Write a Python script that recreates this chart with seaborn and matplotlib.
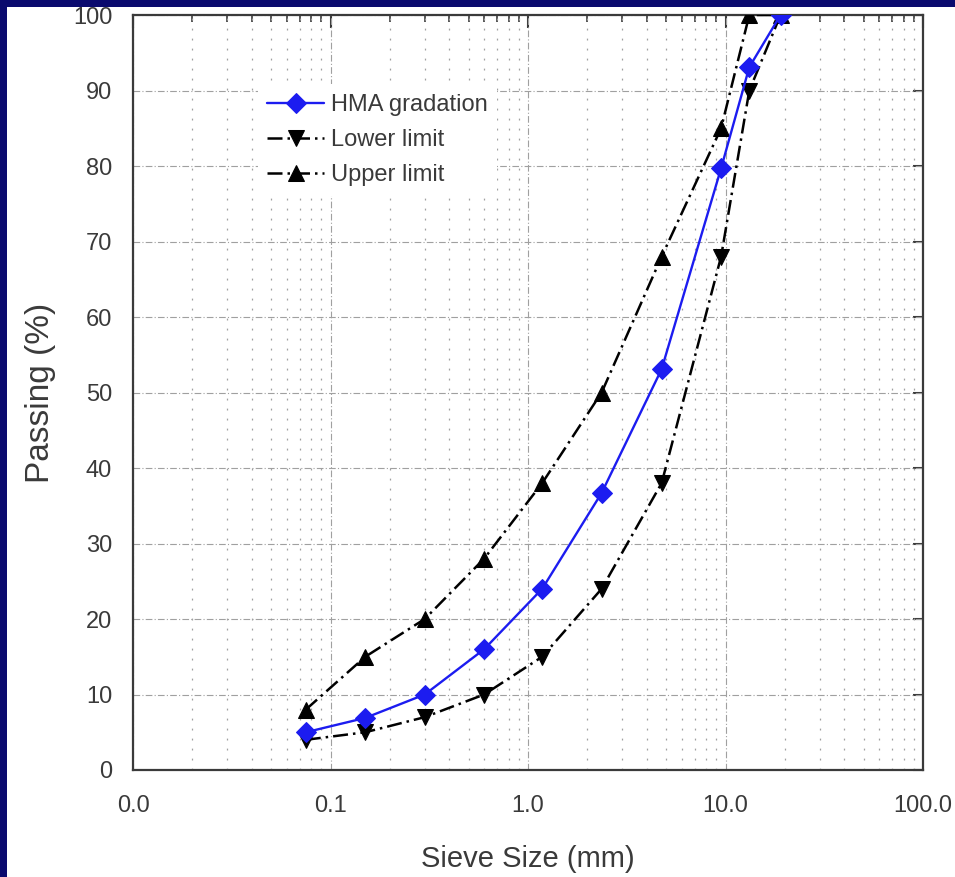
import matplotlib
matplotlib.use("Agg")

import matplotlib.pyplot as plt
import seaborn as sns
from matplotlib.patches import Rectangle
from matplotlib.ticker import FixedLocator, FixedFormatter, LogLocator, NullFormatter

# sieve sizes (mm) and percent passing
sieve_mm = [0.075, 0.15, 0.3, 0.6, 1.18, 2.36, 4.75, 9.5, 13.2, 19.0]
hma_gradation = [5.0, 6.9, 10.0, 16.0, 24.0, 36.7, 53.1, 79.7, 93.1, 100.0]
lower_limit = [4, 5, 7, 10, 15, 24, 38, 68, 90, 100]
upper_limit = [8, 15, 20, 28, 38, 50, 68, 85, 100, 100]

x_ticks = [0.01, 0.1, 1, 10, 100]
x_tick_labels = ["0.0", "0.1", "1.0", "10.0", "100.0"]
y_ticks = list(range(0, 101, 10))

sns.set_theme(style="white")
plt.rcParams['font.family'] = ['Liberation Sans', 'DejaVu Sans']

text_col = "#3a3a3a"
dashdot = (0, (6, 2, 1, 2))

fig = plt.figure(figsize=(9.55, 8.77), dpi=100)
fig.patch.set_facecolor("#0a0a6e")
fig.add_artist(Rectangle((7 / 955, 0), 1 - 7 / 955, 1 - 7 / 877,
                         transform=fig.transFigure, facecolor="white",
                         edgecolor="none", zorder=-1))
ax = fig.add_axes([133 / 955, 1 - 770 / 877, 790 / 955, 755 / 877])

sns.lineplot(x=sieve_mm, y=upper_limit, ax=ax, color="black", lw=1.8,
             linestyle=dashdot, marker="^", markersize=11,
             markeredgecolor="black", label="Upper limit", zorder=3)
sns.lineplot(x=sieve_mm, y=lower_limit, ax=ax, color="black", lw=1.8,
             linestyle=dashdot, marker="v", markersize=11,
             markeredgecolor="black", label="Lower limit", zorder=3)
sns.lineplot(x=sieve_mm, y=hma_gradation, ax=ax, color="#1c1cf0", lw=1.7,
             marker="D", markersize=10, markeredgecolor="#1c1cf0",
             label="HMA gradation", zorder=4)

ax.set_xscale("log")
ax.set_xlim(0.01, 100)
ax.set_ylim(0, 100)

ax.xaxis.set_major_locator(FixedLocator(x_ticks))
ax.xaxis.set_major_formatter(FixedFormatter(x_tick_labels))
ax.xaxis.set_minor_locator(LogLocator(base=10, subs=range(2, 10)))
ax.xaxis.set_minor_formatter(NullFormatter())
ax.set_yticks(y_ticks)

ax.tick_params(axis="x", which="major", direction="out", length=10, width=1.5,
               colors=text_col, labelsize=17, pad=8, top=False)
ax.tick_params(axis="x", which="minor", direction="out", length=5, width=1.2,
               colors=text_col, top=False)
ax.tick_params(axis="y", which="major", direction="out", length=9, width=1.5,
               colors=text_col, labelsize=17, pad=6, right=False)

# top and right ticks point inward
top = ax.secondary_xaxis("top")
top.xaxis.set_major_locator(FixedLocator(x_ticks))
top.xaxis.set_minor_locator(LogLocator(base=10, subs=range(2, 10)))
top.tick_params(which="major", direction="in", length=9, width=1.5,
                colors=text_col, labeltop=False)
top.tick_params(which="minor", direction="in", length=5, width=1.2,
                colors=text_col)
top.xaxis.set_minor_formatter(NullFormatter())
top.spines["top"].set_visible(False)

right = ax.secondary_yaxis("right")
right.set_yticks(y_ticks)
right.tick_params(direction="in", length=7, width=1.5, colors=text_col,
                  labelright=False)
right.spines["right"].set_visible(False)

for s in ax.spines.values():
    s.set_linewidth(1.6)
    s.set_color(text_col)
    s.set_visible(True)

ax.grid(which="major", axis="both", linestyle=dashdot, color="#a0a0a0", lw=0.8)
ax.grid(which="minor", axis="x", linestyle=(0, (1.5, 6.5)), color="#a0a0a0", lw=0.9)
ax.set_axisbelow(True)

ax.set_xlabel("Sieve Size (mm)", fontsize=21, color=text_col, labelpad=20)
ax.set_ylabel("Passing (%)", fontsize=24, color=text_col, labelpad=12)

handles, labels = ax.get_legend_handles_labels()
order = [2, 1, 0]
leg = ax.legend([handles[i] for i in order], [labels[i] for i in order],
                loc="upper left", bbox_to_anchor=(0.158, 0.908),
                borderaxespad=0, borderpad=0.4, fontsize=17,
                handlelength=2.4, handletextpad=0.3, labelspacing=0.56,
                frameon=True, fancybox=False, framealpha=1,
                facecolor="white", edgecolor="none")
for t in leg.get_texts():
    t.set_color(text_col)

fig.savefig("out.png", dpi=100, facecolor=fig.get_facecolor())
